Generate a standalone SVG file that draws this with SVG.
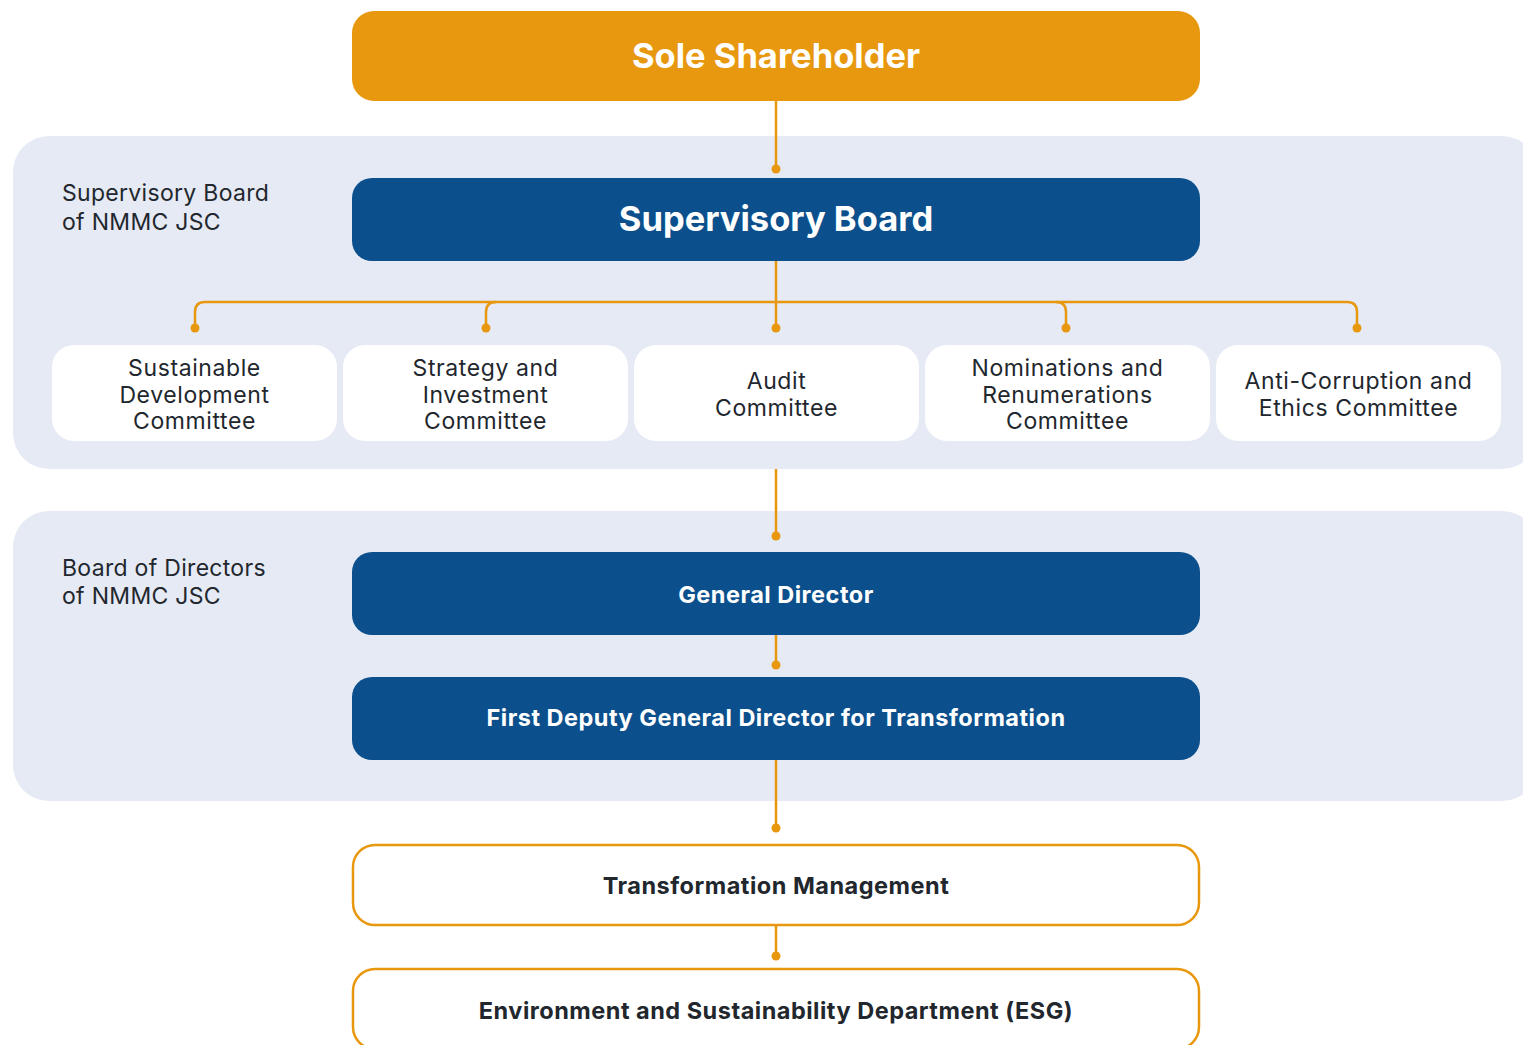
<svg xmlns="http://www.w3.org/2000/svg" width="1523" height="1045" viewBox="0 0 1523 1045">
<style>
.panel{fill:#E6EAF5}
.orange{fill:#E8980F}
.blue{fill:#0B508C}
.com{fill:#FFFFFF}
.outl{fill:#FFFFFF;stroke:#E8980F;stroke-width:2.5}
.conn{fill:none;stroke:#E8980F;stroke-width:2.5}
.dot{fill:#E8980F}
text{font-family:Inter,"Open Sans","Noto Sans",sans-serif;text-anchor:middle}
.big{font-size:34.5px;font-weight:700;fill:#FFFFFF}
.mid{font-size:23.5px;font-weight:700;fill:#FFFFFF;letter-spacing:0.5px}
.dark{font-size:23.5px;font-weight:700;fill:#22272E;letter-spacing:0.5px}
.lab{font-size:23px;fill:#22272E;text-anchor:start;letter-spacing:0.3px}
.ctext{font-size:23px;fill:#22272E;letter-spacing:0.6px}
</style>
<rect width="1523" height="1045" fill="#FFFFFF"/>
<g id="panel-supervisory">
<rect class="panel" x="13" y="136" width="1525" height="333" rx="36"/>
<text class="lab" x="62" y="201">Supervisory Board</text>
<text class="lab" x="62" y="230">of NMMC JSC</text>
</g>
<g id="panel-directors">
<rect class="panel" x="13" y="511" width="1525" height="290" rx="36"/>
<text class="lab" x="62" y="576">Board of Directors</text>
<text class="lab" x="62" y="604">of NMMC JSC</text>
</g>
<g id="connectors">
<path class="conn" d="M776 101V169"/>
<path class="conn" d="M776 261V328"/>
<path class="conn" d="M195 328V312Q195 302 205 302H1347Q1357 302 1357 312V328"/>
<path class="conn" d="M486 328V312Q486 302 496 302"/>
<path class="conn" d="M1066 328V312Q1066 302 1056 302"/>
<path class="conn" d="M776 469V536"/>
<path class="conn" d="M776 635V665"/>
<path class="conn" d="M776 760V828"/>
<path class="conn" d="M776 925V956"/>
<circle class="dot" cx="776" cy="169" r="4.5"/>
<circle class="dot" cx="195" cy="328" r="4.5"/>
<circle class="dot" cx="486" cy="328" r="4.5"/>
<circle class="dot" cx="776" cy="328" r="4.5"/>
<circle class="dot" cx="1066" cy="328" r="4.5"/>
<circle class="dot" cx="1357" cy="328" r="4.5"/>
<circle class="dot" cx="776" cy="536" r="4.5"/>
<circle class="dot" cx="776" cy="665" r="4.5"/>
<circle class="dot" cx="776" cy="828" r="4.5"/>
<circle class="dot" cx="776" cy="956" r="4.5"/>
</g>
<g id="sole-shareholder">
<rect class="orange" x="352" y="11" width="848" height="90" rx="22"/>
<text class="big" x="776" y="68">Sole Shareholder</text>
</g>
<g id="supervisory-board">
<rect class="blue" x="352" y="178" width="848" height="83" rx="20"/>
<text class="big" x="776" y="231">Supervisory Board</text>
</g>
<g id="sustainable-development">
<rect class="com" x="52" y="345" width="285" height="96" rx="22"/>
<text class="ctext" x="194.5" y="376">Sustainable</text>
<text class="ctext" x="194.5" y="403">Development</text>
<text class="ctext" x="194.5" y="429">Committee</text>
</g>
<g id="strategy-investment">
<rect class="com" x="343" y="345" width="285" height="96" rx="22"/>
<text class="ctext" x="485.5" y="376">Strategy and</text>
<text class="ctext" x="485.5" y="403">Investment</text>
<text class="ctext" x="485.5" y="429">Committee</text>
</g>
<g id="audit">
<rect class="com" x="634" y="345" width="285" height="96" rx="22"/>
<text class="ctext" x="776.5" y="389">Audit</text>
<text class="ctext" x="776.5" y="416">Committee</text>
</g>
<g id="nominations">
<rect class="com" x="925" y="345" width="285" height="96" rx="22"/>
<text class="ctext" x="1067.5" y="376">Nominations and</text>
<text class="ctext" x="1067.5" y="403">Renumerations</text>
<text class="ctext" x="1067.5" y="429">Committee</text>
</g>
<g id="anti-corruption">
<rect class="com" x="1216" y="345" width="285" height="96" rx="22"/>
<text class="ctext" x="1358.5" y="389">Anti-Corruption and</text>
<text class="ctext" x="1358.5" y="416">Ethics Committee</text>
</g>
<g id="general-director">
<rect class="blue" x="352" y="552" width="848" height="83" rx="20"/>
<text class="mid" x="776" y="603">General Director</text>
</g>
<g id="first-deputy">
<rect class="blue" x="352" y="677" width="848" height="83" rx="20"/>
<text class="mid" x="776" y="726">First Deputy General Director for Transformation</text>
</g>
<g id="transformation-management">
<rect class="outl" x="353" y="845" width="846" height="80" rx="22"/>
<text class="dark" x="776" y="894">Transformation Management</text>
</g>
<g id="esg">
<rect class="outl" x="353" y="969" width="846" height="80" rx="22"/>
<text class="dark" x="776" y="1019">Environment and Sustainability Department (ESG)</text>
</g>
</svg>
